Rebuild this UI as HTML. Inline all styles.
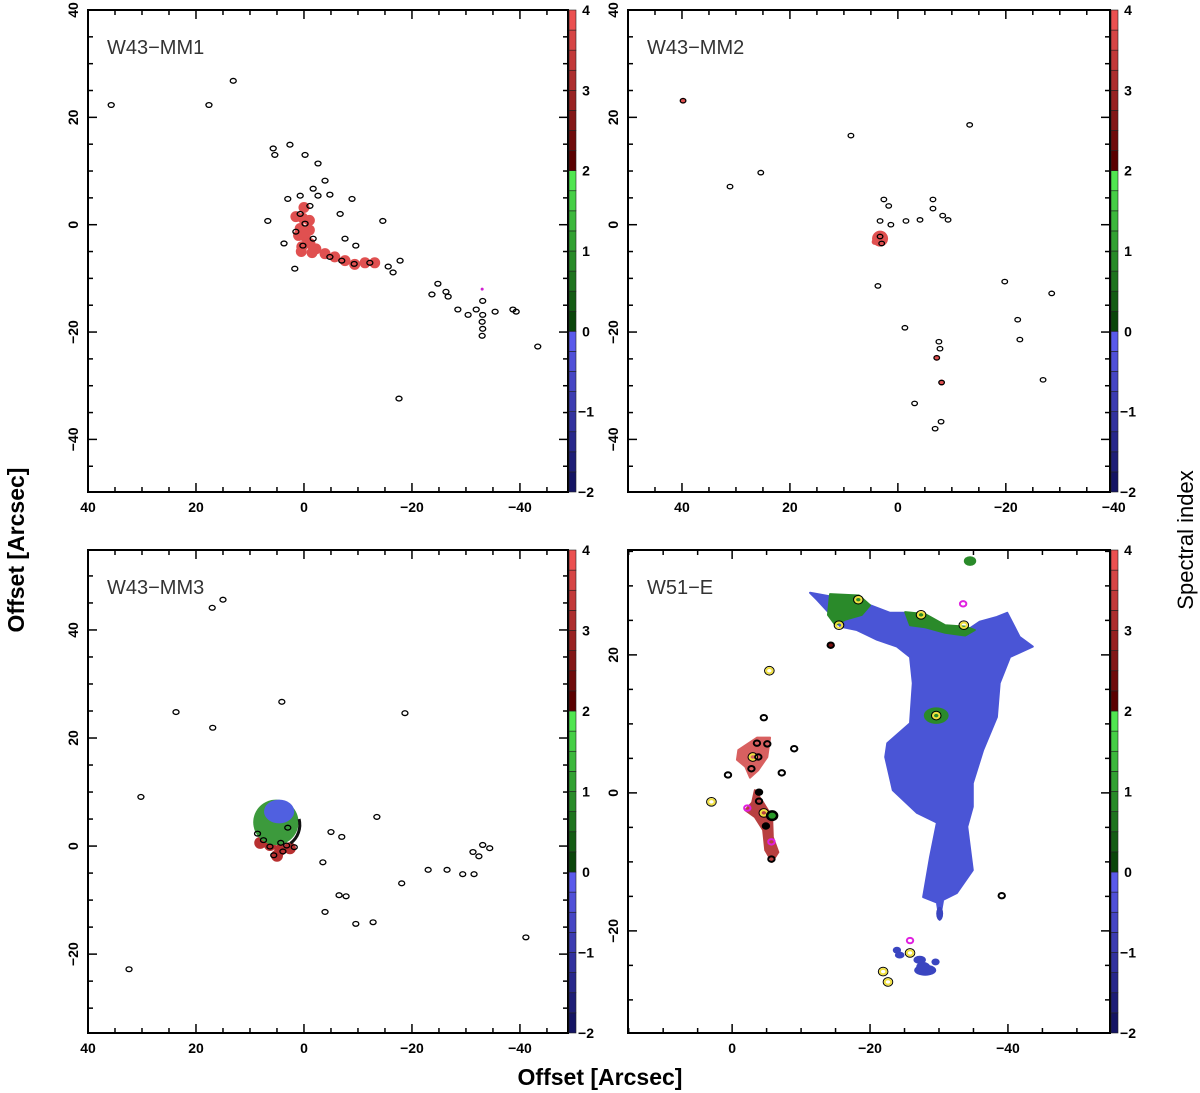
<!DOCTYPE html>
<html><head><meta charset="utf-8">
<style>
html,body{margin:0;padding:0;background:#fff;}
svg{display:block;font-family:"Liberation Sans",Arial,sans-serif;}
</style></head>
<body>
<svg id="fig" width="1200" height="1093" viewBox="0 0 1200 1093">
<text x="600" y="1085" text-anchor="middle" font-size="23" font-weight="bold">Offset [Arcsec]</text>
<text transform="translate(24,550) rotate(-90)" text-anchor="middle" font-size="23" font-weight="bold">Offset [Arcsec]</text>
<text transform="translate(1193,540) rotate(-90)" text-anchor="middle" font-size="22">Spectral index</text>
</svg>
<script>
// ---------- data (arcsec offsets) ----------
const mm1Sources=[[35.7,22.3],[17.6,22.3],[13.1,26.8],[5.7,14.2],[5.4,13.0],[2.6,14.9],[-0.2,13.0],[-2.6,11.4],[-3.9,8.2],[-4.8,5.6],[-8.9,4.8],[3.0,4.8],[0.7,5.4],[-2.6,5.4],[6.7,0.7],[3.7,-3.5],[1.7,-8.2],[-1.7,6.7],[-6.7,2.0],[-7.6,-2.6],[-9.6,-3.9],[-14.6,0.7],[-15.6,-7.8],[-16.5,-8.9],[-17.8,-6.7],[-24.8,-11.0],[-23.7,-13.0],[-26.3,-12.5],[-26.7,-13.4],[-28.5,-15.8],[-30.4,-16.8],[-31.9,-15.8],[-33.1,-14.2],[-33.1,-16.8],[-33.0,-18.1],[-33.1,-19.4],[-33.0,-20.7],[-35.4,-16.2],[-38.7,-15.8],[-39.3,-16.2],[-43.3,-22.7],[-17.6,-32.4],[0.7,2.0],[-0.2,0.2],[-1.7,-2.6],[0.2,-3.9],[1.5,-1.3],[-4.8,-6.0],[-7.0,-6.7],[-9.3,-7.3],[-12.2,-7.1],[-1.1,3.5]];
const mm1Red=[[1.5,1.5],[0.2,1.2],[-1.0,0.8],[0.7,-0.7],[-0.2,-2.2],[-1.1,-3.5],[0.4,-4.1],[-2.2,-4.5],[-3.9,-5.4],[-5.7,-6.0],[-7.6,-6.7],[-9.4,-7.4],[-11.3,-7.1],[-13.1,-7.1],[1,-2],[-1,-1],[0.5,-5],[-1.5,-5.2],[0,3.2]];
const mm2Sources=[[39.8,23.1],[8.7,16.6],[-13.3,18.6],[31.1,7.1],[25.4,9.7],[2.6,4.7],[1.7,3.5],[3.3,0.7],[3.3,-2.2],[3.0,-3.5],[1.3,0],[-1.5,0.7],[-4.1,0.9],[-6.5,4.7],[-6.5,3.0],[-8.3,1.7],[-9.3,0.9],[3.7,-11.4],[-19.8,-10.6],[-28.5,-12.8],[-22.2,-17.7],[-22.6,-21.4],[-1.3,-19.2],[-7.6,-21.8],[-7.8,-23.1],[-7.2,-24.8],[-8.1,-29.4],[-3.1,-33.3],[-26.9,-28.9],[-6.9,-38.0],[-8.0,-36.7]];
const mm2Red=[[3.3,-2.6],[4.3,-3.2],[2.8,-1.8],[39.8,23.1],[-7.2,-24.8],[-8.1,-29.4]];
const mm3Sources=[[17.0,44.1],[15.0,45.6],[23.7,24.8],[16.9,21.9],[4.1,26.7],[-18.7,24.6],[30.2,9.1],[32.4,-22.8],[-7.0,1.7],[-3.5,-3.0],[-5.0,2.6],[-13.5,5.4],[-6.5,-9.1],[-7.8,-9.3],[-9.6,-14.4],[-12.8,-14.1],[-3.9,-12.2],[-18.1,-6.9],[-23.0,-4.4],[-26.5,-4.4],[-29.4,-5.2],[-31.5,-5.2],[-31.3,-1.1],[-32.4,-1.9],[-33.1,0.2],[-34.4,-0.4],[-41.1,-16.9],[8.6,2.3],[7.5,1.1],[6.3,-0.1],[4.3,0.6],[3.2,0.1],[1.8,-0.2],[3.9,-1.0],[5.6,-1.7],[3.0,3.4]];
const w51Blue=[[-11.3,29.0],[-14.6,28.4],[-18.1,28.0],[-20.0,27.2],[-22.9,26.1],[-25.4,26.1],[-27.7,25.5],[-30.6,24.1],[-34.1,23.6],[-35.9,24.8],[-38.4,25.5],[-39.9,26.1],[-41.7,22.6],[-43.6,21.2],[-40.3,19.7],[-38.8,15.9],[-38.4,11.0],[-36.4,6.2],[-34.9,1.4],[-34.9,-2.0],[-34.1,-4.9],[-34.9,-11.2],[-32.6,-14.5],[-30.6,-15.5],[-30.1,-18.4],[-29.7,-15.9],[-27.7,-15.1],[-28.7,-9.3],[-29.7,-4.3],[-26.8,-2.9],[-23.3,0.4],[-22.2,5.2],[-22.5,7.2],[-25.8,10.1],[-26.2,15.9],[-25.8,19.7],[-23.9,21.2],[-21.0,22.2],[-18.1,23.6],[-15.7,24.1],[-14.6,25.5],[-12.3,28.0]];
const w51GreenA=[[-14.2,28.8],[-18.4,28.6],[-20.0,27.2],[-18.8,25.8],[-16.4,25.1],[-15.0,24.3],[-13.9,25.8]];
const w51GreenB=[[-25.1,26.2],[-28.0,25.9],[-30.9,24.3],[-33.8,24.1],[-35.2,23.6],[-33.8,22.8],[-30.9,23.2],[-28.0,24.0],[-25.8,24.3]];
const w51RedA=[[-0.9,6.2],[-3.6,8.0],[-5.5,8.0],[-5.1,5.2],[-3.8,3.3],[-2.6,2.2],[-1.9,3.8],[-0.7,4.8]];
const w51RedB=[[-3.3,0.4],[-4.5,-1.4],[-5.8,-3.5],[-5.9,-6.4],[-6.7,-8.6],[-5.8,-10.0],[-4.8,-8.3],[-4.5,-5.4],[-3.3,-3.5],[-1.9,-2.5],[-2.9,-1.4]];
const w51BluePatches=[[-24.3,-23.5,0.7,0.5],[-27.2,-24.2,0.9,0.6],[-28.0,-25.7,1.6,0.8],[-23.9,-22.8,0.6,0.5],[-27.7,-25.2,1.0,0.7],[-29.5,-24.5,0.6,0.5],[-30.1,-17.5,0.5,1.0]];
// type: 0 black, 1 yellow, 2 magenta, 3 filled black, 4 green with black ring, 5 dark red
const w51Sources=[[-18.3,28.0,1],[-15.5,24.3,1],[-27.4,25.8,1],[-33.6,24.3,1],[-33.5,27.4,2],[-14.3,21.4,5],[-5.4,17.7,1],[-29.6,11.2,1],[-4.6,10.9,0],[-9.0,6.4,0],[0.6,2.6,0],[-7.2,2.9,0],[3.0,-1.3,1],[-3.6,7.2,0],[-5.1,7.1,0],[-3.0,5.2,1],[-3.8,5.2,0],[-2.8,3.5,0],[-3.9,0.1,3],[-3.9,-1.2,0],[-4.6,-2.9,1],[-5.8,-3.3,4],[-4.9,-4.8,3],[-5.7,-7.1,2],[-5.7,-9.6,0],[-2.2,-2.2,2],[-39.1,-14.9,0],[-25.8,-21.4,2],[-25.8,-23.2,1],[-21.9,-25.9,1],[-22.6,-27.4,1]];
const cbTicks=[4,3,2,1,0,-1,-2];
const axisTicks=[40,20,0,-20,-40];

const NS='http://www.w3.org/2000/svg';
const svg=document.getElementById('fig');
function el(tag,attrs,parent){const e=document.createElementNS(NS,tag);for(const k in attrs)e.setAttribute(k,attrs[k]);(parent||svg).appendChild(e);return e;}

function cbColor(i){
  const seg=Math.floor(i/8), f=(i%8)/7;
  const L=(a,b)=>Math.round(a+(b-a)*f);
  if(seg===0) return `rgb(${L(20,90)},${L(20,90)},${L(100,235)})`;
  if(seg===1) return `rgb(${L(10,80)},${L(70,230)},${L(10,80)})`;
  return `rgb(${L(90,235)},${L(0,80)},${L(0,80)})`;
}

function panel(cfg){
  const g=el('g',{});
  
  
  const [x0,y0,x1,y1]=cfg.box;
  const sx=v=>x0+(cfg.xd[0]-v)/(cfg.xd[0]-cfg.xd[1])*(x1-x0);
  const sy=v=>y0+(cfg.yd[1]-v)/(cfg.yd[1]-cfg.yd[0])*(y1-y0);
  const kx=(x1-x0)/(cfg.xd[0]-cfg.xd[1]);
  const clipId='clip-'+cfg.name;
  const cp=el('clipPath',{id:clipId},g);el('rect',{x:x0,y:y0,width:x1-x0,height:y1-y0},cp);
  const plot=el('g',{'clip-path':`url(#${clipId})`},g);
  
  
  if(cfg.draw) cfg.draw(plot,sx,sy,kx);
  const box=el('rect',{x:x0,y:y0,width:x1-x0,height:y1-y0,fill:'none',stroke:'#000','stroke-width':2},g);
  
  
  const tk=el('g',{stroke:'#000','stroke-width':1.5},g);
  for(let v=-100;v<=100;v+=5){
    const major=v%20===0, len=major?9:5;
    if(v<=Math.max(...cfg.xd)&&v>=Math.min(...cfg.xd)){const X=sx(v);el('line',{x1:X,y1:y1,x2:X,y2:y1-len},tk);el('line',{x1:X,y1:y0,x2:X,y2:y0+len},tk);}
    if(v<=cfg.yd[1]&&v>=cfg.yd[0]){const Y=sy(v);el('line',{x1:x0,y1:Y,x2:x0+len,y2:Y},tk);el('line',{x1:x1,y1:Y,x2:x1-len,y2:Y},tk);}
  }
  axisTicks.forEach(v=>{
    if(v<=Math.max(...cfg.xd)+0.5&&v>=Math.min(...cfg.xd)-0.8){
      const t=el('text',{x:sx(v),y:y1+20,'text-anchor':'middle','font-size':14,'font-weight':'bold'},g);
      t.textContent=v<0?'\u2212'+(-v):String(v);
      
      
    }
    if(v<=cfg.yd[1]&&v>=cfg.yd[0]){
      const t=el('text',{transform:`translate(${x0-10},${sy(v)}) rotate(-90)`,'text-anchor':'middle','font-size':14,'font-weight':'bold'},g);
      t.textContent=v<0?'\u2212'+(-v):String(v);
      
      
    }
  });
  const lb=el('text',{x:x0+19,y:y0+44,'font-size':20,fill:'#333'},g);
  lb.textContent=cfg.label;
  
  
  const cb=el('g',{},g);
  
  
  const h=(y1-y0)/24;
  for(let i=0;i<24;i++){
    el('rect',{x:x1+1,y:y1-(i+1)*h,width:7,height:h,fill:cbColor(i),stroke:'#222','stroke-width':0.6},cb);
  }
  cbTicks.forEach(v=>{
    const t=el('text',{x:x1+18,y:y1-(v+2)/6*(y1-y0)+5,'font-size':14,'font-weight':'bold','text-anchor':'middle'},cb);
    t.textContent=v<0?'\u2212'+(-v):String(v);
    
    
  });
  return g;
}

function srcs(p,arr,sx,sy,r,color){
  arr.forEach(d=>{
    const e=el('ellipse',{cx:sx(d[0]),cy:sy(d[1]),rx:r+0.6,ry:r,fill:'none',stroke:color||'#000','stroke-width':1.3},p);
    
    
  });
}
function blobs(p,arr,sx,sy,r,fill){
  arr.forEach(d=>{
    const c=el('circle',{cx:sx(d[0]),cy:sy(d[1]),r:r,fill:fill},p);
    
    
  });
}
function poly(p,arr,sx,sy,fill,name){
  const pg=el('polygon',{points:arr.map(d=>sx(d[0])+','+sy(d[1])).join(' '),fill:fill,stroke:fill,'stroke-width':2,'stroke-linejoin':'round'},p);
  
  
  return pg;
}

panel({name:'panel-w43-mm1',label:'W43\u2212MM1',box:[88,10,568,492],xd:[40,-48.9],yd:[-49.8,40],
 draw:(p,sx,sy)=>{blobs(p,mm1Red,sx,sy,5.5,'#e05050');blobs(p,[[-33,-12]],sx,sy,1.5,'#d020d0');srcs(p,mm1Sources,sx,sy,2.4);}});
panel({name:'panel-w43-mm2',label:'W43\u2212MM2',box:[628,10,1110,492],xd:[50,-39.3],yd:[-49.8,40],
 draw:(p,sx,sy)=>{blobs(p,mm2Red,sx,sy,3,'#e05050');blobs(p,[[3.3,-2.6]],sx,sy,8,'#e05050');srcs(p,mm2Sources,sx,sy,2.2);}});
panel({name:'panel-w43-mm3',label:'W43\u2212MM3',box:[88,550,568,1033],xd:[40,-48.9],yd:[-34.6,54.8],
 draw:(p,sx,sy,k)=>{
  blobs(p,[[6.3,0.2],[4.4,-0.7],[2.6,-0.4],[8.1,0.6],[5.0,-1.8]],sx,sy,6,'#b83030');
  el('circle',{cx:sx(5.2),cy:sy(4.4),r:4.2*k,fill:'#3c9a3c'},p);
  el('ellipse',{cx:sx(4.6),cy:sy(6.4),rx:2.8*k,ry:2.2*k,fill:'#5060e0'},p);
  el('path',{d:`M${sx(0.9)},${sy(5.0)} A${4.3*k},${4.3*k} 0 0 1 ${sx(2.5)},${sy(0.5)}`,fill:'none',stroke:'#111','stroke-width':3},p);
  srcs(p,mm3Sources,sx,sy,2.4);}});
panel({name:'panel-w51-e',label:'W51\u2212E',box:[628,550,1110,1033],xd:[15.1,-54.8],yd:[-34.8,35.2],
 draw:(p,sx,sy,k)=>{
  poly(p,w51Blue,sx,sy,'#4a55d6','blue-emission-region');
  poly(p,w51GreenA,sx,sy,'#2a8a2a','green-emission-region');
  poly(p,w51GreenB,sx,sy,'#2a8a2a','green-emission-region');
  el('ellipse',{cx:sx(-29.6),cy:sy(11.2),rx:1.8*k,ry:1.2*k,fill:'#2a8a2a'},p);
  w51BluePatches.forEach(d=>{const e=el('ellipse',{cx:sx(d[0]),cy:sy(d[1]),rx:d[2]*k,ry:d[3]*k,fill:'#3a45c0'},p);
    
    });
  el('ellipse',{cx:sx(-34.5),cy:sy(33.6),rx:0.9*k,ry:0.7*k,fill:'#2a8a2a'},p);
  poly(p,w51RedA,sx,sy,'#d86060','red-emission-region');
  poly(p,w51RedB,sx,sy,'#b84040','red-emission-region');
  w51Sources.forEach(d=>{
    const t=d[2];
    const stroke=t===1?'#f0e040':t===2?'#e020e0':'#000';
    const fill=t===3?'#000':t===4?'#2a9a2a':t===5?'#7a1010':'none';
    const r=t===4?5:3.2;
    if(t===1){const o=el('ellipse',{cx:sx(d[0]),cy:sy(d[1]),rx:r+1.6,ry:r*0.85+1.6,fill:'none',stroke:'#000','stroke-width':1},p);
      
      }
    const e=el('ellipse',{cx:sx(d[0]),cy:sy(d[1]),rx:r,ry:r*0.85,fill:fill,stroke:stroke,'stroke-width':t===4?2.5:2},p);
    
    
  });}});
</script>
</body></html>
